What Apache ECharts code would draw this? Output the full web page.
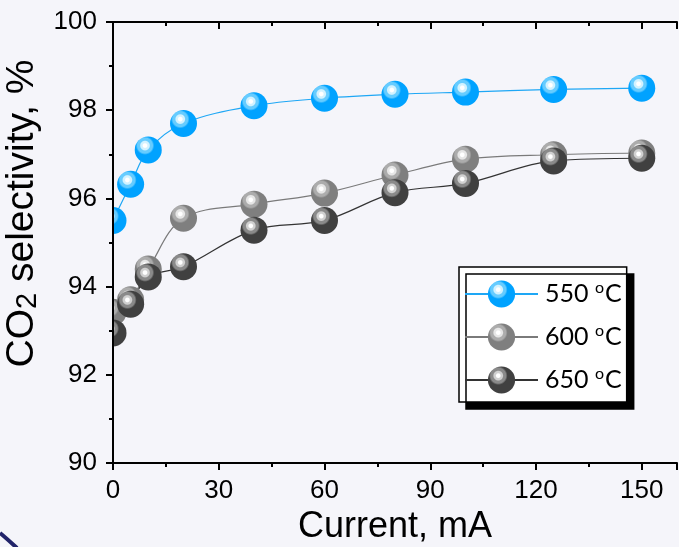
<!DOCTYPE html>
<html>
<head>
<meta charset="utf-8">
<script src="https://cdn.jsdelivr.net/npm/echarts@6/dist/echarts.min.js"></script>
<style>
html,body{margin:0;padding:0;background:#F5F5FA;}
#chart{width:679px;height:547px;}
</style>
</head>
<body>
<div id="chart"></div>
<script>
// ---- data ----
const currents = [0, 5, 10, 20, 40, 60, 80, 100, 125, 150];
const sel550 = [95.5, 96.32, 97.1, 97.7, 98.1, 98.27, 98.36, 98.41, 98.47, 98.5];
const sel600 = [93.42, 93.7, 94.4, 95.55, 95.87, 96.12, 96.53, 96.89, 96.99, 97.03];
const sel650 = [92.95, 93.6, 94.22, 94.45, 95.28, 95.5, 96.13, 96.34, 96.85, 96.91];
const seriesNames = ['550 °C', '600 °C', '650 °C'];
const xTicks = [0, 30, 60, 90, 120, 150];
const yTicks = [90, 92, 94, 96, 98, 100];

const BG = '#F5F5FA';

function pairs(xs, ys) { return xs.map((x, i) => [x, ys[i]]); }
function sphere(base, ring1, ring2) {
  return {
    type: 'radial', x: 0.38, y: 0.34, r: 0.66,
    colorStops: [
      { offset: 0, color: '#ffffff' },
      { offset: 0.1, color: '#ffffff' },
      { offset: 0.16, color: ring1 },
      { offset: 0.24, color: ring1 },
      { offset: 0.3, color: ring2 },
      { offset: 0.42, color: ring2 },
      { offset: 0.52, color: base },
      { offset: 1, color: base }
    ]
  };
}

const chart = echarts.init(document.getElementById('chart'));
const axisLine = { show: true, lineStyle: { color: '#000', width: 2 } };

function mkSeries(name, ys, base, ring1, ring2, lineColor) {
  return {
    name: name, type: 'line', data: pairs(currents, ys), z: 2,
    smooth: 0.35, symbol: 'circle', symbolSize: 27,
    itemStyle: { color: sphere(base, ring1, ring2) },
    lineStyle: { color: lineColor, width: 1.2 },
    clip: false
  };
}

chart.setOption({
  backgroundColor: BG,
  animation: false,
  grid: { left: 113, top: 22, right: 2, bottom: 84, containLabel: false, outerBoundsMode: 'none' },
  xAxis: [{
    type: 'value', min: 0, max: 160, interval: 30, z: 20,
    name: 'Current, mA', nameLocation: 'middle', nameGap: 39,
    nameTextStyle: { fontFamily: 'Liberation Sans', fontSize: 36, color: '#000' },
    axisLine: axisLine,
    axisTick: { show: true, inside: false, length: 7, lineStyle: { width: 2, color: '#000' } },
    minorTick: { show: true, splitNumber: 2, length: 4, lineStyle: { width: 2, color: '#000' } },
    axisLabel: { fontFamily: 'Liberation Sans', fontSize: 26, color: '#000', margin: 15,
      formatter: v => xTicks.indexOf(v) >= 0 ? String(v) : '' },
    splitLine: { show: false }, minorSplitLine: { show: false }
  }, {
    type: 'value', position: 'top', min: 0, max: 160, interval: 30, z: 20,
    axisLine: axisLine,
    axisTick: { show: true, inside: true, length: 7, lineStyle: { width: 2, color: '#000' } },
    minorTick: { show: true, splitNumber: 2, length: 4, lineStyle: { width: 2, color: '#000' } },
    axisLabel: { show: false }, splitLine: { show: false }
  }],
  yAxis: [{
    type: 'value', min: 90, max: 100, interval: 2, z: 20,
    name: '{a|CO}{s|2}{a| selectivity, %}', nameLocation: 'middle', nameGap: 58,
    nameTextStyle: {
      color: '#000', padding: [0, 0, 0, 58],
      rich: {
        a: { fontFamily: 'Liberation Sans', fontSize: 39, color: '#000', lineHeight: 44 },
        s: { fontFamily: 'Liberation Sans', fontSize: 29, color: '#000', lineHeight: 44, padding: [11, 0, 0, 0] }
      }
    },
    axisLine: axisLine,
    axisTick: { show: true, inside: false, length: 7, lineStyle: { width: 2, color: '#000' } },
    minorTick: { show: true, splitNumber: 2, length: 4, lineStyle: { width: 2, color: '#000' } },
    axisLabel: { fontFamily: 'Liberation Sans', fontSize: 26, color: '#000', margin: 16,
      formatter: v => yTicks.indexOf(v) >= 0 ? String(v) : '' },
    splitLine: { show: false }
  }, {
    type: 'value', position: 'right', min: 90, max: 100, interval: 2, z: 20,
    axisLine: axisLine,
    axisTick: { show: true, inside: true, length: 7, lineStyle: { width: 2, color: '#000' } },
    minorTick: { show: true, splitNumber: 2, length: 4, lineStyle: { width: 2, color: '#000' } },
    axisLabel: { show: false }, splitLine: { show: false }
  }],
  legend: {
    data: seriesNames,
    orient: 'vertical', left: 459, top: 267, z: 20,
    backgroundColor: '#ffffff', borderColor: '#000', borderWidth: 1.5,
    shadowColor: '#000', shadowBlur: 0, shadowOffsetX: 7, shadowOffsetY: 7,
    padding: [13, 5, 8, 5],
    itemWidth: 73, itemHeight: 34, itemGap: 15,
    formatter: function (name) { const p = name.split(' °'); return '{a|' + p[0] + ' }{s|o}{a|' + p[1] + '}'; },
    textStyle: {
      padding: [0, 0, 0, 2],
      rich: {
        a: { fontFamily: 'Lato', fontSize: 25, color: '#000', lineHeight: 30 },
        s: { fontFamily: 'Lato', fontSize: 16, color: '#000', lineHeight: 30, padding: [0, 1, 12, 0] }
      }
    }
  },
  graphic: [
    { type: 'rect', z: 10, left: 0, top: 0, shape: { x: 0, y: 0, width: 112, height: 547 }, style: { fill: BG }, silent: true },
    { type: 'bezierCurve', z: 11, shape: { x1: 0, y1: 533, x2: 17, y2: 548, cpx1: 6, cpy1: 538 }, style: { stroke: '#22246A', lineWidth: 4, fill: null } }
  ],
  series: [
    mkSeries(seriesNames[0], sel550, '#00A2FF', '#D2F2FF', '#66CCFF', '#1EA7F5'),
    mkSeries(seriesNames[1], sel600, '#7F7F7F', '#E6E6E6', '#ACACAC', '#7A7A7A'),
    mkSeries(seriesNames[2], sel650, '#404040', '#D0D0D0', '#8A8A8A', '#333333')
  ]
});
</script>
</body>
</html>
